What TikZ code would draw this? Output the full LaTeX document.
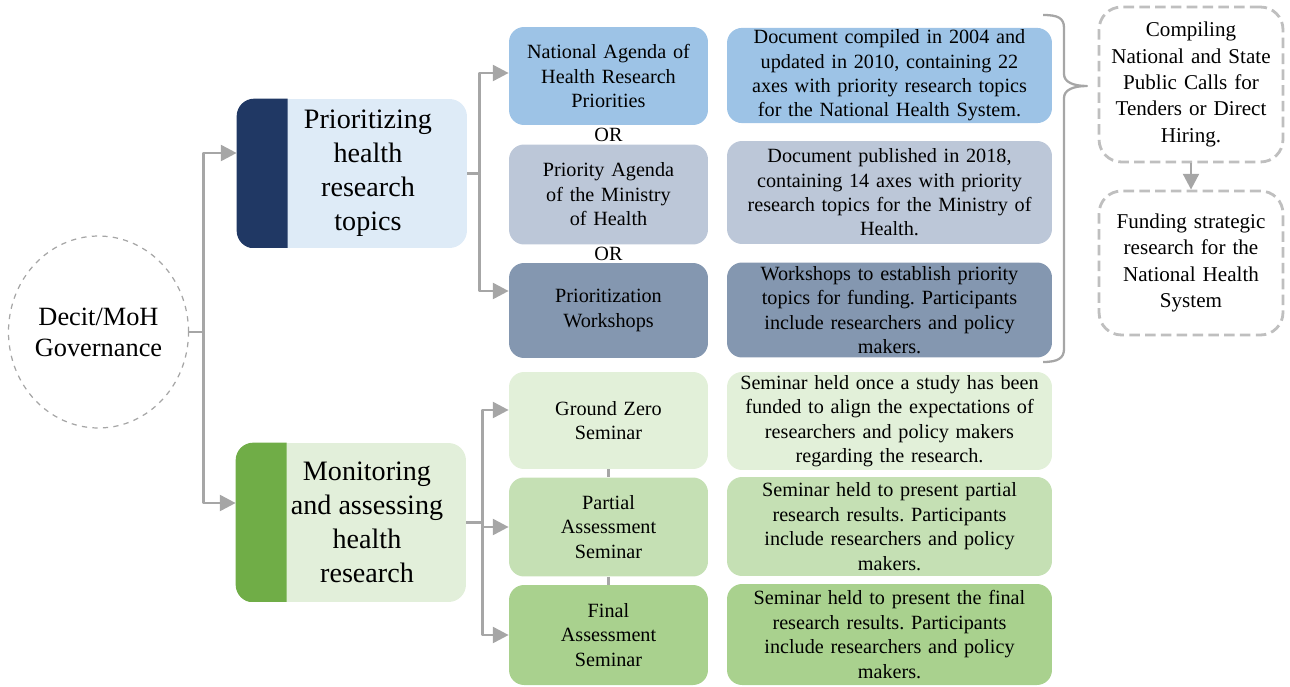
\documentclass[tikz,border=0pt]{standalone}
\usepackage{fontspec}
\setmainfont{Liberation Serif}
\usetikzlibrary{arrows.meta,shapes.geometric}
\definecolor{navystrip}{HTML}{203864}
\definecolor{prioback}{HTML}{DEEBF7}
\definecolor{greenstrip}{HTML}{70AD47}
\definecolor{moniback}{HTML}{E2EFDA}
\definecolor{natblue}{HTML}{9DC3E6}
\definecolor{agendagray}{HTML}{BCC7D8}
\definecolor{workblue}{HTML}{8497B0}
\definecolor{zerogreen}{HTML}{E2F0D9}
\definecolor{partgreen}{HTML}{C5E0B4}
\definecolor{finalgreen}{HTML}{A9D18E}
\definecolor{linegray}{HTML}{A6A6A6}
\definecolor{dashgray}{HTML}{BFBFBF}
\frenchspacing
\begin{document}
\begin{tikzpicture}[x=0.02cm, y=-0.02cm, >={Triangle[length=9pt,width=9pt]}, line join=round,
	conn/.style={draw=linegray, line width=1.6pt},
	item/.style={rounded corners=0.3cm, align=center, inner sep=1pt, font=\fontsize{11.5}{13.9}\selectfont},
	midbox/.style={item, minimum width=3.98cm, text width=3.8cm},
	descbox/.style={item, minimum width=6.5cm, text width=6.3cm},
	topicbox/.style={rounded corners=0.35cm, minimum width=4.6cm},
	topictext/.style={align=center, font=\fontsize{16}{19.3}\selectfont},
	dashbox/.style={draw=dashgray, line width=1.6pt, dash pattern=on 6pt off 3pt, rounded corners=0.45cm, minimum width=3.68cm, align=center, text width=3.4cm, font=\fontsize{12}{15}\selectfont}]
				\useasboundingbox (0,0) rectangle (1290,686);
				% governance
				\node[ellipse, draw=linegray, dashed, line width=0.7pt, inner sep=0pt, minimum width=3.54cm, minimum height=3.84cm, align=center, font=\fontsize{15}{17.6}\selectfont] (gov) at (98.5,332) {Decit/MoH\\Governance};
				% main topics with coloured strips
				\node[topicbox, fill=prioback, minimum height=2.98cm] (prio) at (352,173.5) {};
				\node[topicbox, fill=moniback, minimum height=3.18cm] (moni) at (351,522.5) {};
				\begin{scope}
					\clip (prio.north west) rectangle ++(51,149);
					\fill[navystrip, rounded corners=0.35cm] (prio.north west) rectangle (prio.south east);
				\end{scope}
				\begin{scope}
					\clip (moni.north west) rectangle ++(51,159);
					\fill[greenstrip, rounded corners=0.35cm] (moni.north west) rectangle (moni.south east);
				\end{scope}
				\node[topictext] (priotext) at (368,173.5) {Prioritizing\\health\\research\\topics};
				\node[topictext] (monitext) at (367,522.5) {Monitoring\\and assessing\\health\\research};
				% priority sources
				\node[midbox, fill=natblue, minimum height=1.96cm] (nat) at (608.5,76) {National Agenda of\\Health Research\\Priorities};
				\node[midbox, fill=agendagray, minimum height=2cm] (agenda) at (608.5,194.5) {Priority Agenda\\of the Ministry\\of Health};
				\node[midbox, fill=workblue, minimum height=1.9cm] (work) at (608.5,310.5) {Prioritization\\Workshops};
				\node[item] (or1) at (608.5,134.5) {OR};
				\node[item] (or2) at (608.5,253.5) {OR};
				\node[descbox, fill=natblue, minimum height=1.9cm] (natdesc) at (889.5,75.5) {Document compiled in 2004 and\\updated in 2010, containing 22\\axes with priority research topics\\for the National Health System.};
				\node[descbox, fill=agendagray, minimum height=2.06cm] (agendadesc) at (889.5,192.5) {Document published in 2018,\\containing 14 axes with priority\\research topics for the Ministry of\\Health.};
				\node[descbox, fill=workblue, minimum height=1.9cm] (workdesc) at (889.5,310) {Workshops to establish priority\\topics for funding. Participants\\include researchers and policy\\makers.};
				% seminars
				\node[midbox, fill=zerogreen, minimum height=1.94cm] (zero) at (608.5,420.5) {Ground Zero\\Seminar};
				\node[midbox, fill=partgreen, minimum height=1.98cm] (partial) at (608.5,527) {Partial\\Assessment\\Seminar};
				\node[midbox, fill=finalgreen, minimum height=2cm] (final) at (608.5,635) {Final\\Assessment\\Seminar};
				\node[descbox, fill=zerogreen, minimum height=1.96cm] (zerodesc) at (889.5,421) {Seminar held once a study has been\\funded to align the expectations of\\researchers and policy makers\\regarding the research.};
				\node[descbox, fill=partgreen, minimum height=1.98cm] (partialdesc) at (889.5,526.5) {Seminar held to present partial\\research results. Participants\\include researchers and policy\\makers.};
				\node[descbox, fill=finalgreen, minimum height=2.02cm] (finaldesc) at (889.5,634.5) {Seminar held to present the final\\research results. Participants\\include researchers and policy\\makers.};
				% funding
				\node[dashbox, minimum height=3.1cm] (compile) at (1191,84.5) {Compiling\\National and State\\Public Calls for\\Tenders or Direct\\Hiring.};
				\node[dashbox, minimum height=2.88cm] (fund) at (1191,263) {Funding strategic\\research for the\\National Health\\System};
				% connectors
				\draw[conn,->] (gov.east) -- ++(14,0) |- ([yshift=0.41cm]prio.west);
				\draw[conn,->] (gov.east) -- ++(14,0) |- ([yshift=0.39cm]moni.west);
				\draw[conn,->] (prio.east) -- ++(12,0) |- ([yshift=0.06cm]nat.west);
				\draw[conn,->] (prio.east) -- ++(12,0) |- ([yshift=0.39cm]work.west);
				\draw[conn,->] (moni.east) -- ++(16,0) |- ([yshift=0.21cm]zero.west);
				\draw[conn,->] (moni.east) -- ++(16,0) |- (partial.west);
				\draw[conn,->] (moni.east) -- ++(16,0) |- (final.west);
				\draw[conn] (zero.south) -- (partial.north);
				\draw[conn] (partial.south) -- (final.north);
				\draw[conn,->] (compile) -- (fund);
				\draw[linegray, line width=1.3pt] (1043,15) .. controls (1058,15) and (1064,18) .. (1064,28) -- (1064,74) .. controls (1064,82) and (1073,86) .. (1087,86) .. controls (1073,86) and (1064,90) .. (1064,98) -- (1064,349) .. controls (1064,358) and (1058,362) .. (1043,362);
			\end{tikzpicture}
\end{document}
